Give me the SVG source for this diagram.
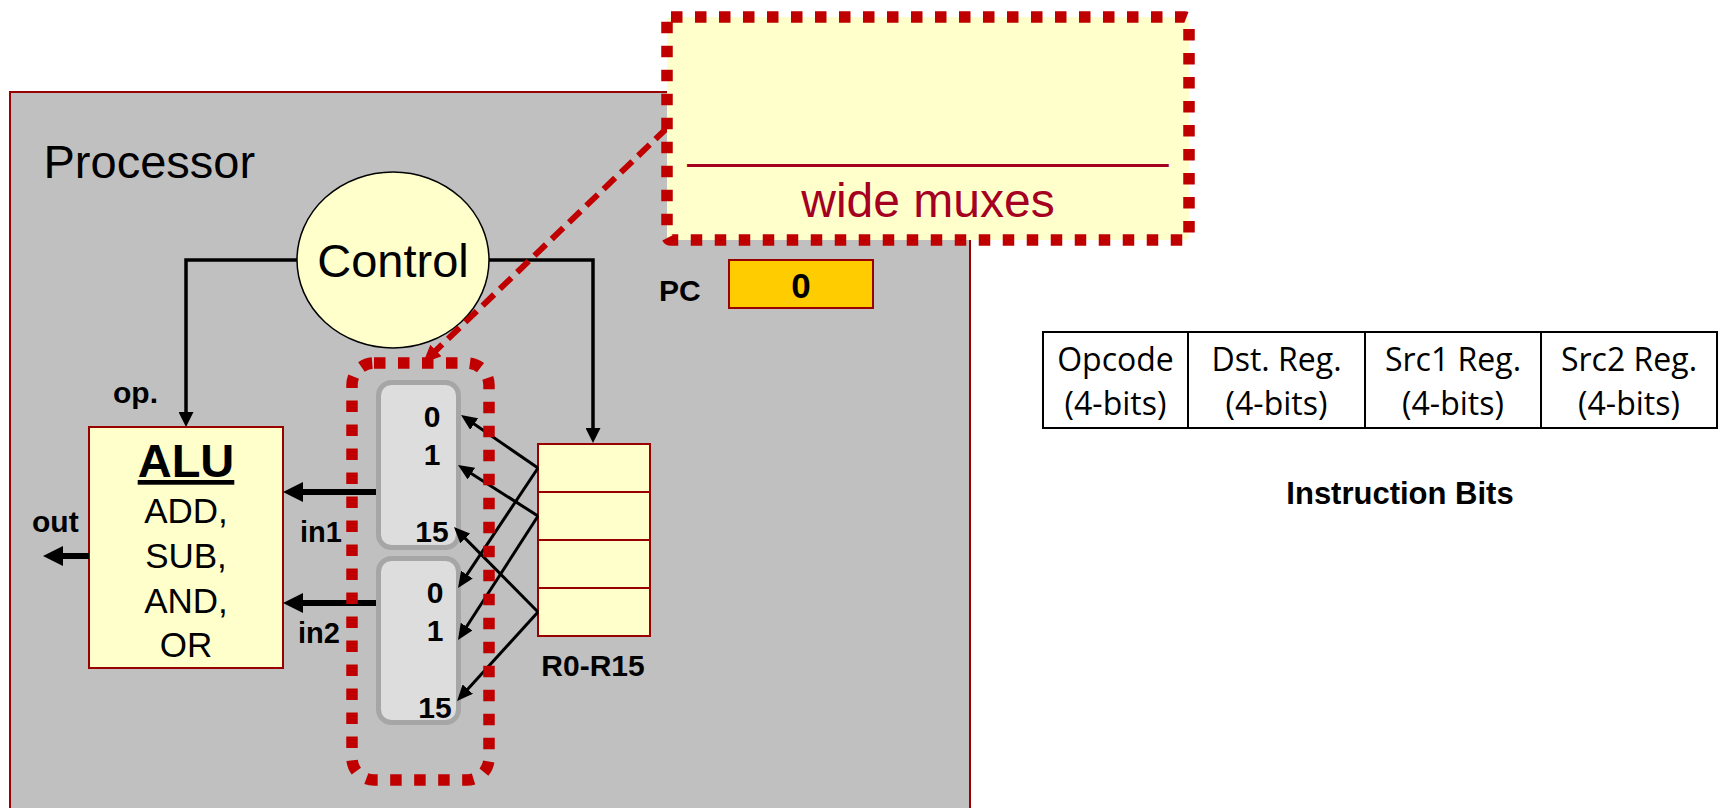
<svg xmlns="http://www.w3.org/2000/svg" width="1719" height="808" viewBox="0 0 1719 808">
<style>
.sans{font-family:"Liberation Sans",Arial,sans-serif;}
.b{font-weight:bold;}
.cal{font-family:"Open Sans","Liberation Sans",sans-serif;font-size:32px;}
.box{fill:#FFFFCC;stroke:#990000;stroke-width:2;}
.wire{fill:none;stroke:#000;stroke-width:3.5;}
.thin{fill:none;stroke:#000;stroke-width:3;}
.thick{fill:none;stroke:#000;stroke-width:6;}
.mux{fill:#DDDDDD;stroke:#A6A6A6;stroke-width:5;}
.reddash{fill:none;stroke:#C00000;stroke-width:11.5;stroke-dasharray:11.5 12.5;}
.cell{fill:#fff;stroke:#000;stroke-width:2;}
</style>
<defs>
<marker id="aThin" markerUnits="userSpaceOnUse" markerWidth="16" markerHeight="14" refX="11" refY="7" orient="auto"><path d="M0,0 L16,7 L0,14 z" fill="#000"/></marker>
<marker id="aMid" markerUnits="userSpaceOnUse" markerWidth="15" markerHeight="15" refX="10" refY="7.5" orient="auto"><path d="M0,0 L15,7.5 L0,15 z" fill="#000"/></marker>
<marker id="aThick" markerUnits="userSpaceOnUse" markerWidth="20" markerHeight="20" refX="12" refY="10" orient="auto"><path d="M0,0 L20,10 L0,20 z" fill="#000"/></marker>
<marker id="aRed" markerUnits="userSpaceOnUse" markerWidth="18" markerHeight="16" refX="12" refY="8" orient="auto"><path d="M0,0 L18,8 L0,16 z" fill="#C00000"/></marker>
</defs>

<g id="processor">
<rect x="10" y="92" width="960" height="730" fill="#C0C0C0" stroke="#990000" stroke-width="2"/>
<text class="sans" x="43.5" y="178" font-size="47">Processor</text>
</g>

<g id="control">
<ellipse cx="393" cy="260" rx="96" ry="88" fill="#FFFFCC" stroke="#000" stroke-width="1.5"/>
<text class="sans" x="393" y="277" font-size="47" text-anchor="middle">Control</text>
</g>

<g id="pc">
<text class="sans b" x="659" y="301" font-size="30">PC</text>
<rect x="729" y="260" width="144" height="48" fill="#FFCC00" stroke="#990000" stroke-width="2"/>
<text class="sans b" x="801" y="298" font-size="35" text-anchor="middle">0</text>
</g>

<g id="alu">
<rect class="box" x="89" y="427" width="194" height="241"/>
<text class="sans b" x="186" y="477" font-size="47" text-anchor="middle" text-decoration="underline">ALU</text>
<text class="sans" x="186" y="523" font-size="35" text-anchor="middle">ADD,</text>
<text class="sans" x="186" y="568" font-size="35" text-anchor="middle">SUB,</text>
<text class="sans" x="186" y="613" font-size="35" text-anchor="middle">AND,</text>
<text class="sans" x="186" y="657" font-size="35" text-anchor="middle">OR</text>
</g>

<g id="mux1">
<rect class="mux" x="378.5" y="382.5" width="80" height="165" rx="13"/>
<text class="sans b" x="432" y="427" font-size="30" text-anchor="middle">0</text>
<text class="sans b" x="432" y="465" font-size="30" text-anchor="middle">1</text>
<text class="sans b" x="432" y="542" font-size="30" text-anchor="middle">15</text>
</g>

<g id="mux2">
<rect class="mux" x="378.5" y="558.5" width="80" height="164" rx="13"/>
<text class="sans b" x="435" y="603" font-size="30" text-anchor="middle">0</text>
<text class="sans b" x="435" y="641" font-size="30" text-anchor="middle">1</text>
<text class="sans b" x="435" y="718" font-size="30" text-anchor="middle">15</text>
</g>

<g id="regfile">
<rect class="box" x="538" y="444" width="112" height="192"/>
<line x1="538" y1="492" x2="650" y2="492" stroke="#990000" stroke-width="2"/>
<line x1="538" y1="540" x2="650" y2="540" stroke="#990000" stroke-width="2"/>
<line x1="538" y1="588" x2="650" y2="588" stroke="#990000" stroke-width="2"/>
<text class="sans b" x="593" y="676" font-size="30" text-anchor="middle">R0-R15</text>
</g>

<g id="labels">
<text class="sans b" x="113" y="403" font-size="30">op.</text>
<text class="sans b" x="32" y="532" font-size="30">out</text>
<text class="sans b" x="300" y="542" font-size="29">in1</text>
<text class="sans b" x="298" y="643" font-size="29">in2</text>
</g>

<g id="connectors">
<path class="wire" d="M297,260 H186 V422" marker-end="url(#aMid)"/>
<path class="wire" d="M489,260 H593 V438" marker-end="url(#aMid)"/>
<path class="thick" d="M376,492 H291" marker-end="url(#aThick)"/>
<path class="thick" d="M376,603 H291" marker-end="url(#aThick)"/>
<path class="thick" d="M89,556 H51" marker-end="url(#aThick)"/>
<line class="thin" x1="538" y1="468" x2="465.1" y2="417.8" marker-end="url(#aThin)"/>
<line class="thin" x1="538" y1="468" x2="460.8" y2="583.8" marker-end="url(#aThin)"/>
<line class="thin" x1="538" y1="516" x2="462.2" y2="467.7" marker-end="url(#aThin)"/>
<line class="thin" x1="538" y1="516" x2="460.7" y2="635.8" marker-end="url(#aThin)"/>
<line class="thin" x1="538" y1="612" x2="457.5" y2="530.6" marker-end="url(#aThin)"/>
<line class="thin" x1="538" y1="612" x2="460.4" y2="697.3" marker-end="url(#aThin)"/>
<line x1="667" y1="128" x2="427.3" y2="358.8" stroke="#C00000" stroke-width="6" stroke-dasharray="16 8" marker-end="url(#aRed)"/>
</g>

<g id="muxgroup">
<rect class="reddash" x="352" y="363" width="137" height="417" rx="22"/>
</g>

<g id="widemux">
<rect x="667" y="17" width="522" height="223" rx="4" fill="#FFFFCC"/>
<rect class="reddash" x="667" y="17" width="522" height="223" rx="4"/>
<text class="sans" x="928" y="157" font-size="48" fill="#A50021" text-anchor="middle">__________________</text>
<text class="sans" x="928" y="217" font-size="48" fill="#A50021" text-anchor="middle">wide muxes</text>
</g>

<g id="instruction">
<rect class="cell" x="1043" y="332" width="145" height="96"/>
<rect class="cell" x="1188" y="332" width="177" height="96"/>
<rect class="cell" x="1365" y="332" width="176" height="96"/>
<rect class="cell" x="1541" y="332" width="176" height="96"/>
<text class="cal" x="1115.5" y="371" text-anchor="middle">Opcode</text>
<text class="cal" x="1115.5" y="415" text-anchor="middle">(4-bits)</text>
<text class="cal" x="1276.5" y="371" text-anchor="middle">Dst. Reg.</text>
<text class="cal" x="1276.5" y="415" text-anchor="middle">(4-bits)</text>
<text class="cal" x="1453" y="371" text-anchor="middle">Src1 Reg.</text>
<text class="cal" x="1453" y="415" text-anchor="middle">(4-bits)</text>
<text class="cal" x="1629" y="371" text-anchor="middle">Src2 Reg.</text>
<text class="cal" x="1629" y="415" text-anchor="middle">(4-bits)</text>
<text class="sans b" x="1400" y="504" font-size="31" text-anchor="middle">Instruction Bits</text>
</g>
</svg>
